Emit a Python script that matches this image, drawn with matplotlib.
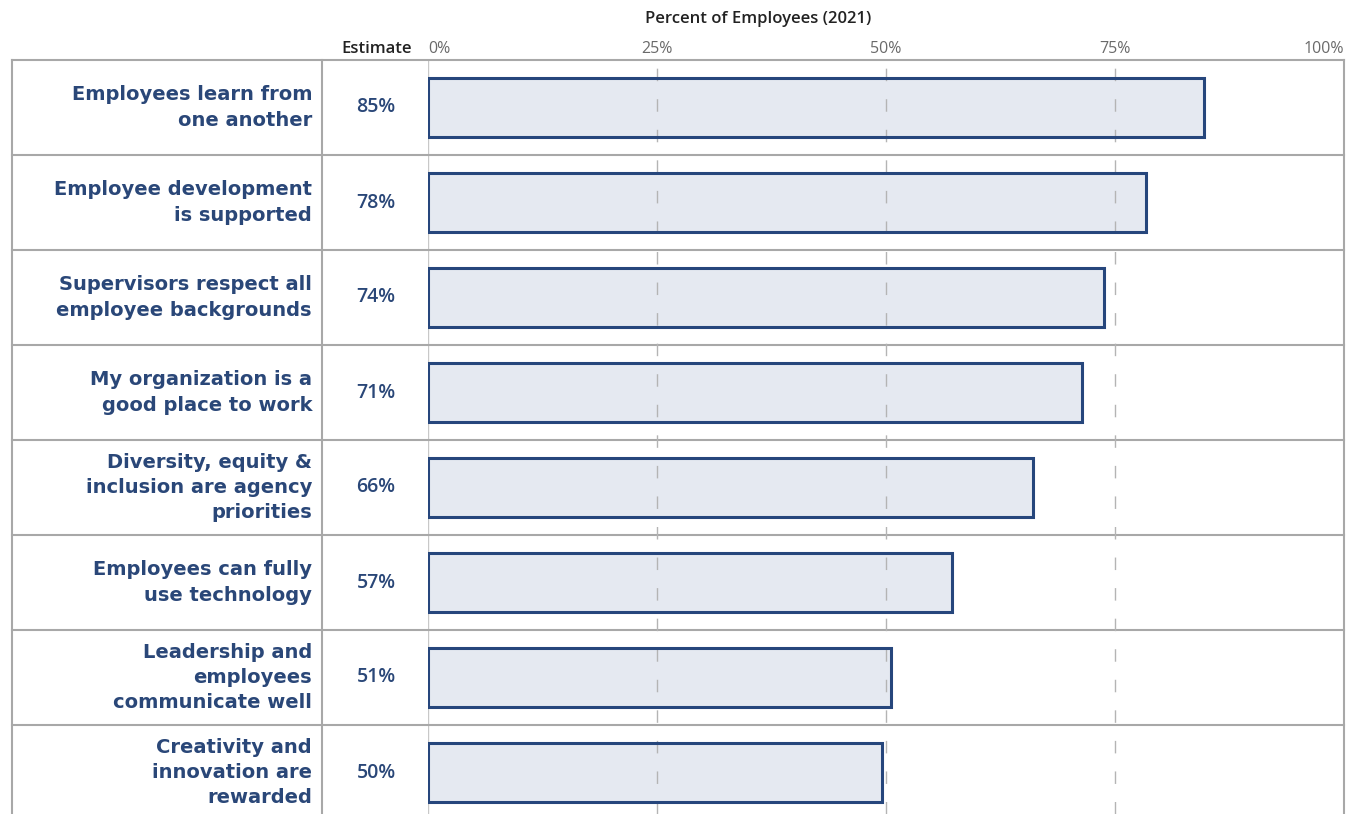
import matplotlib as mpl
mpl.use('Agg')
import matplotlib.pyplot as plt
import matplotlib.transforms as mtransforms
import numpy as np

# data
statements = [
    "Employees learn from\none another",
    "Employee development\nis supported",
    "Supervisors respect all\nemployee backgrounds",
    "My organization is a\ngood place to work",
    "Diversity, equity &\ninclusion are agency\npriorities",
    "Employees can fully\nuse technology",
    "Leadership and\nemployees\ncommunicate well",
    "Creativity and\ninnovation are\nrewarded",
]
percent = [84.7, 78.4, 73.8, 71.4, 66.1, 57.2, 50.5, 49.6]
estimate_labels = ["85%", "78%", "74%", "71%", "66%", "57%", "51%", "50%"]
tick_values = [0, 25, 50, 75, 100]
tick_labels = ["0%", "25%", "50%", "75%", "100%"]

W, H = 1358, 814
navy = "#2a4778"
bar_edge = "#26467c"
bar_fill = "#e5e9f1"
line_gray = "#a8a8a8"
grid_gray = "#b4b4b4"

fig = plt.figure(figsize=(W / 100, H / 100), dpi=100)

# bar area: 0% at x=428px, 100% at x=1344px, top border at y=60px
ax = fig.add_axes([428 / W, 0, (1344 - 428) / W, (H - 60) / H])
row_h = 95
n = len(statements)
ax.set_xlim(0, 100)
ax.set_ylim((H - 60) / row_h, 0)
ax.axis('off')

y = np.arange(n) + 0.5
# fill first, dashed grid over the fill, outline on top
ax.barh(y, percent, height=0.62, color=bar_fill, linewidth=0, zorder=2)
ax.barh(y, percent, height=0.62, fill=False, edgecolor=bar_edge, linewidth=2.2, zorder=4)

for v in tick_values[1:-1]:
    ax.axvline(v, color=grid_gray, linewidth=1, dashes=(9, 13), zorder=3)
ax.axvline(0, color="#c8c8c8", linewidth=1, zorder=1)

# table lines
blend = mtransforms.blended_transform_factory(fig.transFigure, ax.transData)
x_left, x_sep, x_right = 12 / W, 322 / W, 1344 / W
for i in range(n + 1):
    ax.plot([x_left, x_right], [i, i], transform=blend, color=line_gray,
            linewidth=1.5, clip_on=False, zorder=2)
for xv in [x_left, x_sep, x_right]:
    ax.plot([xv, xv], [0, n], transform=blend, color=line_gray,
            linewidth=1.5, clip_on=False, zorder=2)

# row labels and estimates
for i in range(n):
    ax.text(312 / W, y[i], statements[i], transform=blend, ha='right', va='center',
            fontsize=14, fontweight='bold', color=navy, family='DejaVu Sans',
            linespacing=1.41)
    ax.text(376 / W, y[i], estimate_labels[i], transform=blend, ha='center', va='center',
            fontsize=14, fontweight='semibold', color=navy, family='Open Sans')

# header
fig.text(758 / W, 1 - 19 / H, "Percent of Employees (2021)", ha='center', va='center',
         fontsize=12, fontweight='semibold', color="#222222", family='Open Sans')
fig.text(412 / W, 1 - 49 / H, "Estimate", ha='right', va='center',
         fontsize=12, fontweight='semibold', color="#222222", family='Open Sans')
xt = mtransforms.blended_transform_factory(ax.transData, fig.transFigure)
for v, lab in zip(tick_values, tick_labels):
    ha = 'left' if v == 0 else ('right' if v == 100 else 'center')
    ax.text(v, 1 - 49 / H, lab, transform=xt, ha=ha, va='center',
            fontsize=11.5, color="#6a6a6a", family='Open Sans')

plt.savefig("out.png", dpi=100)
